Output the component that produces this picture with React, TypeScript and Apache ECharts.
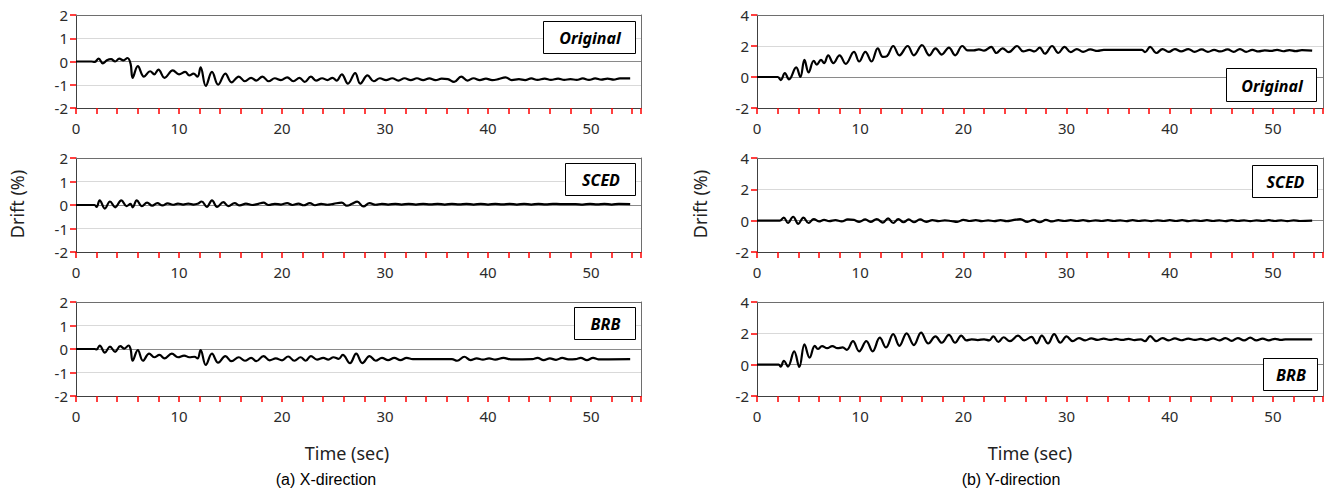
import React, { useEffect, useRef } from "react";
import * as echarts from "echarts";

// Time axis: minor ticks every 2 s, labels every 10 s
const X_TICK_STEP = 2;
const X_LABEL_STEP = 10;
const X_MAX = 54.85;
const PANEL_NAMES = ["Original", "SCED", "BRB"];

// X-direction drift (%) : [time (sec), drift]
const xOriginal = [
  [0, 0], [1.5, 0], [1.8, -0.02], [2.2, 0.12], [2.6, -0.08], [3.0, 0.05], [3.4, 0.1], [3.8, 0.0], [4.2, 0.12], [4.6, 0.05], [5.0, 0.15], [5.3, -0.1],
  [5.5, -0.7], [6.0, -0.2], [6.6, -0.65], [7.2, -0.42], [7.6, -0.55], [8.0, -0.35], [8.6, -0.7], [9.4, -0.38], [10.0, -0.55], [10.6, -0.45],
  [11.0, -0.6], [11.4, -0.52], [11.8, -0.65], [12.1, -0.25], [12.6, -1.05], [13.2, -0.45], [13.8, -1.0], [14.5, -0.52], [15.1, -0.9],
  [15.8, -0.65], [16.4, -0.85], [17.0, -0.7], [17.5, -0.82], [18.1, -0.65], [18.7, -0.85], [19.3, -0.72], [19.9, -0.8], [20.5, -0.68],
  [21.1, -0.85], [21.7, -0.7], [22.2, -0.88], [22.8, -0.65], [23.3, -0.82], [23.9, -0.72], [24.4, -0.8], [24.9, -0.7], [25.3, -0.82],
  [25.8, -0.55], [26.4, -0.95], [27.1, -0.5], [27.6, -0.95], [28.3, -0.6], [28.9, -0.85], [29.5, -0.72], [30.1, -0.8], [30.7, -0.72],
  [31.3, -0.82], [31.9, -0.72], [32.5, -0.8], [33.1, -0.72], [33.7, -0.8], [34.3, -0.73], [34.9, -0.8], [35.5, -0.74], [36.1, -0.76],
  [36.7, -0.88], [37.4, -0.65], [38.0, -0.82], [38.6, -0.72], [39.2, -0.8], [39.8, -0.74], [40.4, -0.8], [41.0, -0.76], [41.7, -0.68],
  [42.3, -0.8], [43.0, -0.76], [43.6, -0.8], [44.2, -0.73], [44.8, -0.79], [45.5, -0.74], [46.1, -0.79], [46.8, -0.74], [47.4, -0.79],
  [48.0, -0.76], [48.6, -0.79], [49.2, -0.73], [49.8, -0.79], [50.4, -0.73], [51.0, -0.78], [51.6, -0.74], [52.2, -0.78], [52.8, -0.73], [53.8, -0.73],
];

const xSced = [
  [0, 0], [1.8, 0], [2.0, -0.08], [2.3, 0.2], [2.8, -0.15], [3.3, 0.15], [3.8, -0.1], [4.4, 0.2], [4.9, -0.05], [5.3, 0.05], [5.5, -0.1],
  [5.9, 0.2], [6.4, -0.05], [6.9, 0.1], [7.4, -0.03], [7.9, 0.08], [8.4, -0.02], [8.9, 0.07], [9.4, 0.01], [9.9, 0.06], [10.4, 0.02],
  [10.9, 0.06], [11.4, 0.02], [11.8, 0.05], [12.2, 0.15], [12.7, -0.08], [13.2, 0.2], [13.7, -0.08], [14.3, 0.12], [14.8, -0.05],
  [15.4, 0.08], [15.9, -0.02], [16.5, 0.06], [17.1, 0.0], [17.7, 0.05], [18.2, 0.1], [18.7, 0.0], [19.3, 0.05], [19.9, 0.02], [20.5, 0.08],
  [21.0, 0.0], [21.6, 0.06], [22.1, -0.01], [22.7, 0.08], [23.2, -0.01], [23.8, 0.05], [24.4, 0.01], [25.0, 0.05], [25.8, 0.1], [26.3, -0.03],
  [26.8, 0.05], [27.3, 0.14], [27.9, -0.06], [28.5, 0.08], [29.1, 0.01], [29.7, 0.05], [30.3, 0.02], [31.0, 0.05], [31.6, 0.02], [32.3, 0.05],
  [33.0, 0.02], [33.7, 0.05], [34.4, 0.03], [35.1, 0.05], [35.8, 0.02], [36.5, 0.05], [37.2, 0.03], [37.9, 0.05], [38.6, 0.02], [39.3, 0.05],
  [40.0, 0.02], [40.7, 0.05], [41.4, 0.03], [42.1, 0.05], [42.8, 0.02], [43.5, 0.05], [44.2, 0.02], [44.9, 0.05], [45.6, 0.03], [46.3, 0.05],
  [47.0, 0.04], [48.5, 0.04], [49.2, 0.02], [49.9, 0.05], [50.6, 0.03], [51.3, 0.05], [52.0, 0.02], [52.7, 0.05], [53.8, 0.04],
];

const xBrb = [
  [0, 0], [1.8, 0], [2.0, -0.02], [2.3, 0.15], [2.8, -0.15], [3.3, 0.1], [3.8, -0.12], [4.3, 0.12], [4.7, 0.02], [5.1, 0.15], [5.3, 0.0],
  [5.5, -0.5], [6.0, -0.05], [6.5, -0.5], [7.1, -0.2], [7.6, -0.35], [8.1, -0.25], [8.6, -0.4], [9.3, -0.2], [9.9, -0.35], [10.5, -0.28],
  [11.0, -0.35], [11.5, -0.33], [11.8, -0.4], [12.1, -0.05], [12.6, -0.68], [13.2, -0.2], [13.8, -0.58], [14.5, -0.3], [15.1, -0.52],
  [15.8, -0.35], [16.4, -0.5], [17.0, -0.38], [17.5, -0.52], [18.2, -0.3], [18.8, -0.48], [19.4, -0.4], [20.0, -0.48], [20.6, -0.32],
  [21.2, -0.5], [21.8, -0.35], [22.3, -0.5], [22.8, -0.3], [23.4, -0.45], [24.0, -0.38], [24.5, -0.45], [25.0, -0.35], [25.5, -0.42],
  [25.9, -0.25], [26.6, -0.6], [27.2, -0.2], [27.8, -0.6], [28.5, -0.3], [29.1, -0.5], [29.7, -0.38], [30.3, -0.47], [30.9, -0.38],
  [31.5, -0.47], [32.1, -0.38], [32.7, -0.43], [36.5, -0.43], [37.0, -0.5], [37.7, -0.33], [38.3, -0.47], [38.9, -0.4], [39.5, -0.45],
  [40.1, -0.4], [40.7, -0.45], [41.5, -0.38], [42.2, -0.44], [44.3, -0.43], [44.8, -0.38], [45.4, -0.47], [46.0, -0.4], [46.6, -0.46],
  [47.2, -0.38], [47.8, -0.44], [48.5, -0.43], [49.0, -0.38], [49.6, -0.47], [50.2, -0.38], [50.7, -0.44], [53.8, -0.43],
];

// Y-direction drift (%) : [time (sec), drift]
const yOriginal = [
  [0, 0], [2.0, 0], [2.3, -0.2], [2.7, 0.25], [3.1, -0.15], [3.8, 0.62], [4.2, 0.0], [4.6, 1.1], [5.0, 0.3], [5.5, 1.05], [5.8, 0.8],
  [6.2, 1.1], [6.5, 0.9], [6.9, 1.4], [7.4, 0.9], [8.0, 1.4], [8.6, 0.85], [9.4, 1.62], [9.9, 1.0], [10.5, 1.62], [11.1, 1.0], [11.7, 1.85],
  [12.2, 1.3], [12.6, 1.35], [13.2, 2.0], [13.8, 1.4], [14.6, 2.0], [15.2, 1.4], [16.0, 2.05], [16.7, 1.4], [17.3, 1.85], [17.9, 1.45],
  [18.6, 1.9], [19.2, 1.4], [19.9, 2.0], [20.4, 1.72], [21.0, 1.72], [21.5, 1.78], [22.0, 1.7], [22.7, 1.95], [23.2, 1.55], [23.8, 1.85],
  [24.4, 1.6], [25.2, 2.0], [25.8, 1.65], [26.4, 1.75], [26.9, 1.65], [27.4, 1.9], [27.9, 1.5], [28.6, 2.0], [29.2, 1.55], [29.8, 1.95],
  [30.4, 1.6], [31.0, 1.8], [31.6, 1.62], [32.3, 1.78], [33.0, 1.68], [33.6, 1.75], [37.3, 1.75], [37.6, 1.6], [38.1, 1.95], [38.7, 1.55],
  [39.3, 1.8], [39.9, 1.62], [40.5, 1.8], [41.1, 1.65], [41.8, 1.8], [42.4, 1.62], [43.1, 1.78], [43.7, 1.62], [44.3, 1.75], [44.9, 1.65],
  [45.6, 1.78], [46.2, 1.62], [46.8, 1.8], [47.4, 1.62], [48.0, 1.75], [48.6, 1.65], [49.2, 1.72], [49.8, 1.68], [50.4, 1.75], [51.0, 1.66],
  [51.6, 1.74], [52.2, 1.67], [52.8, 1.73], [53.8, 1.7],
];

const ySced = [
  [0, 0], [2.2, 0], [2.6, 0.2], [3.0, -0.15], [3.5, 0.25], [4.0, -0.2], [4.5, 0.2], [5.0, -0.15], [5.5, 0.1], [6.0, -0.05], [6.5, 0.05],
  [7.0, -0.03], [7.6, 0.03], [8.2, -0.05], [8.8, 0.08], [9.4, 0.05], [9.9, -0.08], [10.5, 0.08], [11.0, -0.08], [11.6, 0.1], [12.2, -0.12],
  [12.7, 0.15], [13.2, -0.15], [13.7, 0.1], [14.2, -0.1], [14.7, 0.08], [15.2, -0.1], [15.8, 0.08], [16.4, -0.08], [17.0, 0.03], [17.6, -0.03],
  [18.2, 0.02], [18.8, -0.02], [19.4, -0.08], [20.0, 0.05], [20.6, -0.02], [21.2, 0.03], [21.8, -0.03], [22.4, 0.02], [23.0, -0.03],
  [23.6, 0.03], [24.2, -0.03], [24.8, 0.03], [25.5, 0.1], [26.2, -0.08], [26.8, 0.05], [27.4, -0.1], [28.0, 0.05], [28.6, -0.05],
  [29.2, 0.03], [29.8, -0.02], [30.4, 0.03], [31.0, -0.02], [31.6, 0.03], [32.2, -0.03], [32.8, 0.02], [33.4, -0.02], [34.0, 0.03],
  [34.6, -0.02], [35.2, 0.02], [35.8, -0.03], [36.4, 0.03], [37.0, -0.02], [37.6, 0.02], [38.2, -0.03], [38.8, 0.02], [39.4, -0.02],
  [40.0, 0.03], [40.6, -0.02], [41.2, 0.03], [41.8, -0.03], [42.4, 0.02], [43.0, -0.02], [43.6, 0.03], [44.2, -0.02], [44.8, 0.02],
  [45.4, -0.03], [46.0, 0.03], [46.6, -0.02], [47.2, 0.02], [47.8, -0.03], [48.4, 0.02], [49.0, -0.02], [49.6, 0.03], [50.2, -0.02],
  [50.8, 0.02], [51.4, -0.03], [52.0, 0.02], [52.6, -0.02], [53.8, 0.0],
];

const yBrb = [
  [0, 0], [2.1, 0], [2.3, -0.12], [2.6, 0.25], [3.0, -0.12], [3.6, 0.85], [4.1, -0.15], [4.6, 1.3], [5.1, 0.45], [5.6, 1.2], [5.9, 1.0],
  [6.3, 1.18], [6.8, 1.05], [7.3, 1.18], [7.8, 1.05], [8.3, 1.1], [8.7, 0.95], [9.3, 1.5], [9.9, 0.85], [10.6, 1.5], [11.2, 0.85],
  [11.9, 1.72], [12.5, 1.1], [13.2, 1.95], [13.8, 1.2], [14.5, 2.0], [15.2, 1.25], [15.9, 2.05], [16.6, 1.35], [17.3, 1.8], [17.9, 1.4],
  [18.6, 1.9], [19.2, 1.4], [19.8, 1.85], [20.3, 1.55], [20.8, 1.62], [21.4, 1.57], [22.0, 1.62], [22.5, 1.55], [22.9, 1.8], [23.4, 1.45],
  [23.9, 1.75], [24.5, 1.5], [25.3, 1.85], [25.9, 1.55], [26.6, 1.78], [27.1, 1.35], [27.6, 1.85], [28.2, 1.35], [28.8, 1.95], [29.4, 1.4],
  [30.0, 1.8], [30.6, 1.5], [31.2, 1.7], [31.8, 1.55], [32.4, 1.68], [33.0, 1.58], [33.6, 1.66], [34.2, 1.58], [34.8, 1.64], [35.4, 1.58],
  [36.0, 1.65], [36.6, 1.57], [37.2, 1.62], [37.6, 1.5], [38.1, 1.82], [38.7, 1.5], [39.3, 1.7], [39.9, 1.55], [40.5, 1.68], [41.1, 1.56],
  [41.8, 1.66], [42.4, 1.58], [43.0, 1.64], [43.6, 1.56], [44.2, 1.68], [44.8, 1.55], [45.4, 1.7], [46.0, 1.52], [46.6, 1.7], [47.2, 1.55],
  [47.8, 1.72], [48.4, 1.55], [49.0, 1.66], [49.6, 1.55], [50.2, 1.65], [50.8, 1.58], [51.2, 1.62], [53.8, 1.62],
];

const FONT = '"Noto Sans", "Open Sans", sans-serif';
const AXIS_COLOR = "#404040";
const TICK_COLOR = "#ff0000";
const BORDER_COLOR = "#6e6e6e";

export default function App() {
  const ref = useRef<HTMLDivElement>(null);

  useEffect(() => {
    document.body.style.margin = "0";
    if (!ref.current) return;
    const chart = echarts.init(ref.current, undefined, { renderer: "svg" });

    const gridPos = [
      { left: 76, top: 15, width: 565, height: 93 },
      { left: 76, top: 158, width: 565, height: 94 },
      { left: 76, top: 302, width: 565, height: 94 },
      { left: 757, top: 15, width: 566, height: 93 },
      { left: 757, top: 158, width: 566, height: 94 },
      { left: 757, top: 302, width: 566, height: 94 },
    ];
    const allData = [xOriginal, xSced, xBrb, yOriginal, ySced, yBrb];

    const grid = gridPos.map((g) => ({ ...g }));

    const xAxis: any[] = [];
    gridPos.forEach((_, i) => {
      xAxis.push({
        type: "value",
        gridIndex: i,
        min: 0,
        max: X_MAX,
        interval: X_TICK_STEP,
        axisLine: { show: true, onZero: false, lineStyle: { color: AXIS_COLOR, width: 1 } },
        axisTick: { show: true, length: 6, lineStyle: { color: TICK_COLOR, width: 1.5 } },
        axisLabel: { show: false },
        splitLine: { show: true, lineStyle: { opacity: 0 } },
      });
    });
    gridPos.forEach((_, i) => {
      xAxis.push({
        type: "value",
        gridIndex: i,
        position: "bottom",
        min: 0,
        max: X_MAX,
        interval: X_LABEL_STEP,
        axisLine: { show: false, onZero: false },
        axisTick: { show: false },
        axisLabel: { show: true, showMaxLabel: false, fontSize: 15, margin: 12, color: "#2b2b2b", fontFamily: FONT },
        splitLine: { show: false },
      });
    });
    gridPos.forEach((_, i) => {
      xAxis.push({
        type: "value",
        gridIndex: i,
        position: "top",
        min: 0,
        max: X_MAX,
        axisLine: { show: true, onZero: false, lineStyle: { color: BORDER_COLOR, width: 1 } },
        axisTick: { show: false },
        axisLabel: { show: false },
        splitLine: { show: false },
      });
    });

    const yAxis: any[] = [];
    gridPos.forEach((_, i) => {
      const isX = i < 3;
      yAxis.push({
        type: "value",
        gridIndex: i,
        min: -2,
        max: isX ? 2 : 4,
        interval: isX ? 1 : 2,
        axisLine: { show: true, onZero: false, lineStyle: { color: AXIS_COLOR, width: 1 } },
        axisTick: { show: true, length: 6, lineStyle: { color: TICK_COLOR, width: 1.5 } },
        axisLabel: { fontSize: 15, margin: 8, color: "#2b2b2b", fontFamily: FONT },
        splitLine: {
          show: true,
          lineStyle: {
            color: isX
              ? ["#6e6e6e", "#d9d9d9", "#8a8a8a", "#d9d9d9", "#6e6e6e"]
              : ["#6e6e6e", "#8a8a8a", "#d9d9d9", "#6e6e6e"],
            width: 1,
          },
        },
      });
    });
    gridPos.forEach((_, i) => {
      const isX = i < 3;
      yAxis.push({
        type: "value",
        gridIndex: i,
        position: "right",
        min: -2,
        max: isX ? 2 : 4,
        axisLine: { show: true, onZero: false, lineStyle: { color: BORDER_COLOR, width: 1 } },
        axisTick: { show: false },
        axisLabel: { show: false },
        splitLine: { show: false },
      });
    });

    const series = allData.map((d, i) => ({
      type: "line",
      xAxisIndex: i,
      yAxisIndex: i,
      data: d,
      showSymbol: false,
      smooth: 0.4,
      lineStyle: { color: "#000", width: 2.2 },
      z: 3,
    }));

    const boxes = [
      { x: 543, y: 21, w: 92, h: 32, name: PANEL_NAMES[0] },
      { x: 565, y: 163, w: 70, h: 32, name: PANEL_NAMES[1] },
      { x: 574, y: 307, w: 61, h: 32, name: PANEL_NAMES[2] },
      { x: 1226, y: 68, w: 90, h: 33, name: PANEL_NAMES[0] },
      { x: 1252, y: 165, w: 65, h: 32, name: PANEL_NAMES[1] },
      { x: 1263, y: 358, w: 54, h: 32, name: PANEL_NAMES[2] },
    ];

    const graphic: any[] = [];
    boxes.forEach((b) => {
      graphic.push({
        type: "rect",
        z: 100,
        shape: { x: b.x + 0.5, y: b.y + 0.5, width: b.w, height: b.h },
        style: { fill: "#fff", stroke: "#000", lineWidth: 1 },
      });
      graphic.push({
        type: "text",
        z: 101,
        style: {
          text: b.name,
          x: b.x + b.w / 2 + 1,
          y: b.y + b.h / 2 + 1,
          textAlign: "center",
          textVerticalAlign: "middle",
          font: `italic bold 16px ${FONT}`,
          fill: "#000",
        },
      });
    });

    [17, 700].forEach((x) => {
      graphic.push({
        type: "text",
        x,
        y: 204,
        rotation: Math.PI / 2,
        style: {
          text: "Drift (%)",
          textAlign: "center",
          textVerticalAlign: "middle",
          font: `18px ${FONT}`,
          fill: "#222",
        },
      });
    });

    [
      { x: 347, t: "Time (sec)" },
      { x: 1030, t: "Time (sec)" },
    ].forEach((o) => {
      graphic.push({
        type: "text",
        style: {
          text: o.t,
          x: o.x,
          y: 453,
          textAlign: "center",
          textVerticalAlign: "middle",
          font: `18px ${FONT}`,
          fill: "#222",
        },
      });
    });

    [
      { x: 326, t: "(a) X-direction" },
      { x: 1011, t: "(b) Y-direction" },
    ].forEach((o) => {
      graphic.push({
        type: "text",
        style: {
          text: o.t,
          x: o.x,
          y: 479,
          textAlign: "center",
          textVerticalAlign: "middle",
          font: `16px "Liberation Sans", Arial, sans-serif`,
          fill: "#000",
        },
      });
    });

    chart.setOption({
      animation: false,
      backgroundColor: "#fff",
      grid,
      xAxis,
      yAxis,
      series,
      graphic,
    });

    return () => {
      chart.dispose();
    };
  }, []);

  return <div ref={ref} style={{ width: 1330, height: 496 }} />;
}
